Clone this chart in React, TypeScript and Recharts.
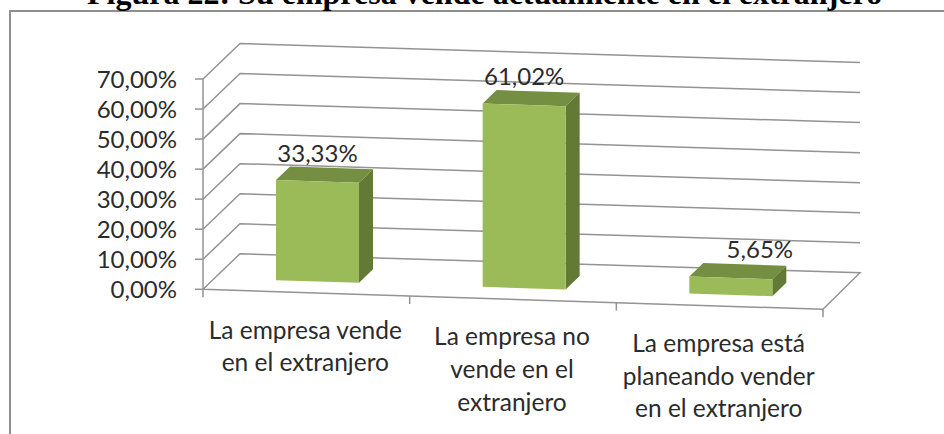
import React from 'react';
import { BarChart, Bar, XAxis, YAxis, CartesianGrid, LabelList } from 'recharts';

const categories = [
    ['La empresa vende', 'en el extranjero'],
    ['La empresa no', 'vende en el', 'extranjero'],
    ['La empresa está', 'planeando vender', 'en el extranjero'],
];
const shares = [33.33, 61.02, 5.65];
const yTicks = [0, 10, 20, 30, 40, 50, 60, 70];

const data = categories.map((lines, i) => ({ name: lines.join(' '), lines, value: shares[i] }));

const PLOT_LEFT = 203;
const PLOT_TOP = 79;
const PLOT_WIDTH = 620;
const PLOT_HEIGHT = 210.3;
const PLOT_BOTTOM = PLOT_TOP + PLOT_HEIGHT;
const SLOPE = 0.0323; // the floor drops to the right
const WALL_DX = 37;
const WALL_DY = 35.5;
const BACK_DROP = 19; // drop of the back wall lines over the plot width
const BAR_DX = 11;
const BAR_DY = -11.5;
const DEPTH_X = 14;
const DEPTH_Y = 13.5;

const LINE = '#939393';
const TEXT = '#2b2b2b';
const FONT = 'Lato, sans-serif';

const fmt = (v: number) => `${v.toFixed(2).replace('.', ',')}%`;
const drop = (x: number) => (x - PLOT_LEFT) * SLOPE;

const GridLine = (props: any) => {
    const { x1, x2, y1 } = props;
    const isFloor = Math.abs(y1 - PLOT_BOTTOM) < 1;
    const backL = [x1 + WALL_DX, y1 - WALL_DY];
    const backR = [x2 + WALL_DX, y1 - WALL_DY + BACK_DROP];
    const pts = [[x1, y1], backL, backR];
    if (isFloor) pts.push([x2, y1 + (x2 - x1) * SLOPE], [x1, y1]);
    return (
        <polyline
            key={props.index}
            points={pts.map(p => p.join(',')).join(' ')}
            fill="none"
            stroke={LINE}
            strokeWidth={1.5}
        />
    );
};

const Bar3D = (props: any) => {
    const { x, y, width, height } = props;
    const left = x + BAR_DX;
    const right = left + width;
    const dl = drop(left) + BAR_DY;
    const dr = drop(right) + BAR_DY;
    const top = y;
    const bottom = y + height;
    const front = `${left},${top + dl} ${right},${top + dr} ${right},${bottom + dr} ${left},${bottom + dl}`;
    const cap = `${left},${top + dl} ${right},${top + dr} ${right + DEPTH_X},${top + dr - DEPTH_Y} ${left + DEPTH_X},${top + dl - DEPTH_Y}`;
    const side = `${right},${top + dr} ${right + DEPTH_X},${top + dr - DEPTH_Y} ${right + DEPTH_X},${bottom + dr - DEPTH_Y} ${right},${bottom + dr}`;
    return (
        <g>
            <polygon points={cap} fill="#748E42" />
            <polygon points={side} fill="#637A37" />
            <polygon points={front} fill="#9BBB59" />
        </g>
    );
};

const BarValue = (props: any) => {
    const { x, y, width, value, index } = props;
    const left = x + BAR_DX;
    const shift = index === 2 ? 29 : 0; // the last label was dragged to the right in the source
    return (
        <text
            x={left + width / 2 + shift}
            y={y + drop(left) + BAR_DY - 18.5}
            textAnchor="middle"
            fontFamily={FONT}
            fontSize={24}
            fill={TEXT}
        >
            {fmt(value)}
        </text>
    );
};

const CategoryTick = (props: any) => {
    const { x, index, payload } = props;
    const band = PLOT_WIDTH / categories.length;
    const lines: string[] = categories[index] ?? [payload.value];
    const edges = index === 0 ? [x - band / 2, x + band / 2] : [x + band / 2];
    return (
        <g>
            {edges.map(ex => (
                <line
                    key={ex}
                    x1={ex}
                    x2={ex}
                    y1={PLOT_BOTTOM + drop(ex)}
                    y2={PLOT_BOTTOM + drop(ex) + 8}
                    stroke={LINE}
                    strokeWidth={1.5}
                />
            ))}
            {lines.map((line, i) => (
                <text
                    key={line}
                    x={x - 1}
                    y={PLOT_BOTTOM + drop(x) + 46 + i * 32.7}
                    textAnchor="middle"
                    fontFamily={FONT}
                    fontSize={24.5}
                    fill={TEXT}
                >
                    {line}
                </text>
            ))}
        </g>
    );
};

export default function App() {
    return (
        <div style={{ position: 'absolute', left: 0, top: 0, width: 944, height: 434, overflow: 'hidden', background: '#fff' }}>
            <div
                style={{
                    position: 'absolute',
                    left: 9,
                    top: 10,
                    width: 960,
                    height: 460,
                    borderLeft: '2px solid #8f8f8f',
                    borderTop: '2px solid #8f8f8f',
                }}
            />
            <div
                style={{
                    position: 'absolute',
                    left: 87,
                    top: -22,
                    whiteSpace: 'nowrap',
                    fontFamily: '"Liberation Serif", serif',
                    fontWeight: 700,
                    fontSize: 32,
                    lineHeight: '31px',
                    color: '#000',
                }}
            >
                Figura 22: Su empresa vende actualmente en el extranjero
            </div>
            <div style={{ position: 'absolute', left: 0, top: 0 }}>
                <BarChart
                    width={944}
                    height={434}
                    data={data}
                    barSize={83}
                    margin={{ top: PLOT_TOP, right: 944 - PLOT_LEFT - PLOT_WIDTH, bottom: 0, left: 0 }}
                >
                    <CartesianGrid vertical={false} horizontal={GridLine} />
                    <XAxis
                        dataKey="name"
                        height={434 - PLOT_BOTTOM}
                        axisLine={false}
                        tickLine={false}
                        interval={0}
                        tick={CategoryTick}
                    />
                    <YAxis
                        width={PLOT_LEFT}
                        domain={[0, 70]}
                        ticks={yTicks}
                        interval={0}
                        tickFormatter={fmt}
                        tickSize={8}
                        tickMargin={18}
                        axisLine={{ stroke: LINE, strokeWidth: 1.5 }}
                        tickLine={{ stroke: LINE, strokeWidth: 1.5 }}
                        tick={{ fontFamily: FONT, fontSize: 24, fill: TEXT }}
                    />
                    <Bar dataKey="value" shape={Bar3D} isAnimationActive={false}>
                        <LabelList dataKey="value" content={BarValue} />
                    </Bar>
                </BarChart>
            </div>
        </div>
    );
}
